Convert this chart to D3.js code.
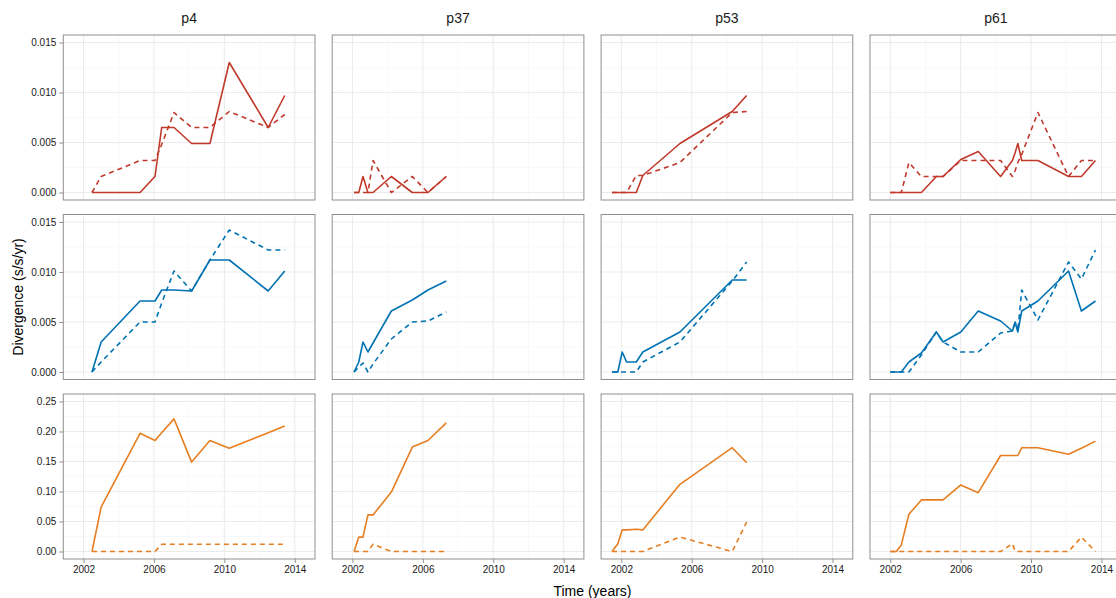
<!doctype html>
<html>
<head>
<meta charset="utf-8">
<title>Divergence</title>
<script src="https://cdn.jsdelivr.net/npm/d3@7"></script>
<style>
  body { margin: 0; background: #fff; }
  svg { font-family: "Liberation Sans", Arial, sans-serif; }
  .grid-major { stroke: #ebebeb; stroke-width: 1; }
  .grid-minor { stroke: #f5f5f5; stroke-width: 0.6; }
  .border { fill: none; stroke: #8f8f8f; stroke-width: 1; }
  .tick-lab { font-size: 10px; fill: #1a1a1a; }
  .strip { font-size: 14px; fill: #1a1a1a; }
  .title { font-size: 14px; fill: #000; }
</style>
</head>
<body>
<script>
// facets
var patients = ["p4", "p37", "p53", "p61"];
var rowColors = ["#c0392b", "#0072b2", "#e67e22"];

// sample times per patient (years)
var p4_t  = [2002.48, 2003.0, 2005.21, 2006.06, 2006.44, 2007.14, 2008.14, 2009.18, 2010.28, 2012.49, 2013.43];
var p37_t = [2002.09, 2002.36, 2002.6, 2002.88, 2003.17, 2004.21, 2005.40, 2006.29, 2007.33];
var p53_t = [2001.47, 2001.8, 2002.05, 2002.3, 2002.85, 2003.22, 2005.33, 2008.3, 2009.12];
var p61_t = [2002.0, 2002.34, 2002.63, 2003.06, 2003.77, 2004.62, 2005.0, 2006.01, 2007.0, 2008.27, 2008.94, 2009.1, 2009.25, 2009.47, 2010.39, 2012.13, 2012.86, 2013.66];

// row 1 (red)
var p4_r1_solid  = [0, 0, 0, 0.0016, 0.0065, 0.0065, 0.0049, 0.0049, 0.0130, 0.0065, 0.0097];
var p4_r1_dash   = [0, 0.0016, 0.0032, 0.0032, 0.0048, 0.0080, 0.0065, 0.0065, 0.0081, 0.0065, 0.0078];
var p37_r1_solid = [0, 0, 0.0016, 0, 0, 0.0016, 0, 0, 0.0016];
var p37_r1_dash  = [0, 0, 0, 0, 0.0032, 0, 0.0016, 0, 0.0016];
var p53_r1_solid = [0, 0, 0, 0, 0, 0.0017, 0.0049, 0.0081, 0.0097];
var p53_r1_dash  = [0, 0, 0, 0, 0.0017, 0.0017, 0.0030, 0.0080, 0.0081];
var p61_r1_solid = [0, 0, 0, 0, 0, 0.0016, 0.0016, 0.0033, 0.0041, 0.0016, 0.0032, 0.0040, 0.0049, 0.0032, 0.0032, 0.0016, 0.0016, 0.0032];
var p61_r1_dash  = [0, 0, 0, 0.0030, 0.0016, 0.0016, 0.0016, 0.0032, 0.0032, 0.0032, 0.0016, 0.0022, 0.0030, 0.0038, 0.0080, 0.0016, 0.0032, 0.0032];

// row 2 (blue)
var p4_r2_solid  = [0, 0.0030, 0.0071, 0.0071, 0.0082, 0.0082, 0.0081, 0.0112, 0.0112, 0.0081, 0.0101];
var p4_r2_dash   = [0, 0.0010, 0.0050, 0.0050, 0.0069, 0.0101, 0.0081, 0.0112, 0.0142, 0.0122, 0.0122];
var p37_r2_solid = [0, 0.0010, 0.0030, 0.0020, 0.0029, 0.0061, 0.0072, 0.0082, 0.0091];
var p37_r2_dash  = [0, 0.0005, 0.0009, 0, 0.0008, 0.0033, 0.0050, 0.0051, 0.0060];
var p53_r2_solid = [0, 0, 0.0020, 0.0010, 0.0010, 0.0020, 0.0040, 0.0092, 0.0092];
var p53_r2_dash  = [0, 0, 0, 0, 0, 0.0010, 0.0030, 0.0091, 0.0110];
var p61_r2_solid = [0, 0, 0, 0.0010, 0.0019, 0.0040, 0.0030, 0.0040, 0.0061, 0.0051, 0.0041, 0.0050, 0.0040, 0.0061, 0.0071, 0.0101, 0.0061, 0.0071];
var p61_r2_dash  = [0, 0, 0, 0, 0.0017, 0.0040, 0.0030, 0.0020, 0.0020, 0.0039, 0.0041, 0.0050, 0.0041, 0.0082, 0.0052, 0.0110, 0.0093, 0.0122];

// row 3 (orange)
var p4_r3_solid  = [0, 0.074, 0.197, 0.185, 0.198, 0.221, 0.149, 0.185, 0.172, 0.198, 0.209];
var p4_r3_dash   = [0, 0, 0, 0, 0.012, 0.012, 0.012, 0.012, 0.012, 0.012, 0.012];
var p37_r3_solid = [0, 0.024, 0.024, 0.061, 0.061, 0.099, 0.174, 0.185, 0.2145];
var p37_r3_dash  = [0, 0, 0, 0, 0.012, 0, 0, 0, 0];
var p53_r3_solid = [0, 0.013, 0.036, 0.036, 0.037, 0.036, 0.112, 0.173, 0.148];
var p53_r3_dash  = [0, 0, 0, 0, 0, 0, 0.024, 0, 0.049];
var p61_r3_solid = [0, 0, 0.011, 0.062, 0.086, 0.086, 0.086, 0.111, 0.098, 0.160, 0.160, 0.160, 0.160, 0.173, 0.173, 0.162, 0.172, 0.184];
var p61_r3_dash  = [0, 0, 0, 0, 0, 0, 0, 0, 0, 0, 0.013, 0, 0, 0, 0, 0, 0.024, 0];

// axis ticks
var xTicks = [2002, 2006, 2010, 2014];
var xMinor = [2000, 2004, 2008, 2012, 2016];
var yTicksSmall = [0, 0.005, 0.010, 0.015];
var yMinorSmall = [0.0025, 0.0075, 0.0125];
var yTicksBig = [0, 0.05, 0.10, 0.15, 0.20, 0.25];
var yMinorBig = [0.025, 0.075, 0.125, 0.175, 0.225];

var times = [p4_t, p37_t, p53_t, p61_t];
var series = [
  [[p4_r1_solid, p4_r1_dash], [p37_r1_solid, p37_r1_dash], [p53_r1_solid, p53_r1_dash], [p61_r1_solid, p61_r1_dash]],
  [[p4_r2_solid, p4_r2_dash], [p37_r2_solid, p37_r2_dash], [p53_r2_solid, p53_r2_dash], [p61_r2_solid, p61_r2_dash]],
  [[p4_r3_solid, p4_r3_dash], [p37_r3_solid, p37_r3_dash], [p53_r3_solid, p53_r3_dash], [p61_r3_solid, p61_r3_dash]]
];

var W = 1116, H = 598;
var padL = 63.3, padT = 35, panelW = 251.7, panelH = 165, stepX = 268.9, stepY = 179.5;

var svg = d3.select("body").append("svg")
  .attr("width", W)
  .attr("height", H);

var x = d3.scaleLinear().domain([2000.85, 2015.15]).range([0, panelW]);
var yScales = [
  d3.scaleLinear().domain([-0.00075, 0.01575]).range([panelH, 0]),
  d3.scaleLinear().domain([-0.00075, 0.01575]).range([panelH, 0]),
  d3.scaleLinear().domain([-0.0125, 0.2625]).range([panelH, 0])
];
var rowTicks = [yTicksSmall, yTicksSmall, yTicksBig];
var rowMinor = [yMinorSmall, yMinorSmall, yMinorBig];
var yFmt = [d3.format(".3f"), d3.format(".3f"), d3.format(".2f")];

// strip labels
patients.forEach(function(p, c) {
  svg.append("text")
    .attr("class", "strip")
    .attr("x", padL + c * stepX + panelW / 2)
    .attr("y", 18)
    .attr("text-anchor", "middle")
    .attr("dy", "0.35em")
    .text(p);
});

for (var r = 0; r < 3; r++) {
  var y = yScales[r];
  for (var c = 0; c < 4; c++) {
    var g = svg.append("g")
      .attr("transform", "translate(" + (padL + c * stepX) + "," + (padT + r * stepY) + ")");

    g.append("clipPath").attr("id", "clip" + r + c)
      .append("rect").attr("width", panelW).attr("height", panelH);

    var grid = g.append("g").attr("clip-path", "url(#clip" + r + c + ")");
    grid.selectAll(".gx-minor").data(xMinor).enter().append("line")
      .attr("class", "grid-minor")
      .attr("x1", x).attr("x2", x).attr("y1", 0).attr("y2", panelH);
    grid.selectAll(".gy-minor").data(rowMinor[r]).enter().append("line")
      .attr("class", "grid-minor")
      .attr("x1", 0).attr("x2", panelW).attr("y1", y).attr("y2", y);
    grid.selectAll(".gx").data(xTicks).enter().append("line")
      .attr("class", "grid-major")
      .attr("x1", x).attr("x2", x).attr("y1", 0).attr("y2", panelH);
    grid.selectAll(".gy").data(rowTicks[r]).enter().append("line")
      .attr("class", "grid-major")
      .attr("x1", 0).attr("x2", panelW).attr("y1", y).attr("y2", y);

    var t = times[c];
    var line = d3.line()
      .x(function(d) { return x(d[0]); })
      .y(function(d) { return y(d[1]); });

    series[r][c].forEach(function(vals, k) {
      var pts = t.map(function(tt, i) { return [tt, vals[i]]; });
      g.append("path")
        .datum(pts)
        .attr("d", line)
        .attr("fill", "none")
        .attr("stroke", rowColors[r])
        .attr("stroke-width", 1.6)
        .attr("stroke-linejoin", "round")
        .attr("stroke-dasharray", k === 1 ? "5,4" : null);
    });

    g.append("rect")
      .attr("class", "border")
      .attr("x", 0).attr("y", 0)
      .attr("width", panelW).attr("height", panelH);

    if (c === 0) {
      var ya = g.append("g")
        .call(d3.axisLeft(y).tickValues(rowTicks[r]).tickFormat(yFmt[r]).tickSize(4).tickPadding(3));
      ya.select(".domain").remove();
      ya.selectAll("line").attr("stroke", "#8f8f8f");
      ya.selectAll("text").attr("class", "tick-lab").attr("fill", "#1a1a1a").style("font-size", "10px");
    }
    if (r === 2) {
      var xa = g.append("g")
        .attr("transform", "translate(0," + panelH + ")")
        .call(d3.axisBottom(x).tickValues(xTicks).tickFormat(d3.format("d")).tickSize(4).tickPadding(3));
      xa.select(".domain").remove();
      xa.selectAll("line").attr("stroke", "#8f8f8f");
      xa.selectAll("text").attr("class", "tick-lab").attr("fill", "#1a1a1a").style("font-size", "10px");
    }
  }
}

// axis titles
svg.append("text")
  .attr("class", "title")
  .attr("x", padL + (3 * stepX + panelW) / 2)
  .attr("y", 591)
  .attr("text-anchor", "middle")
  .attr("dy", "0.35em")
  .text("Time (years)");

svg.append("text")
  .attr("class", "title")
  .attr("transform", "translate(18," + (padT + (2 * stepY + panelH) / 2) + ") rotate(-90)")
  .attr("text-anchor", "middle")
  .attr("dy", "0.35em")
  .text("Divergence (s/s/yr)");
</script>
</body>
</html>
